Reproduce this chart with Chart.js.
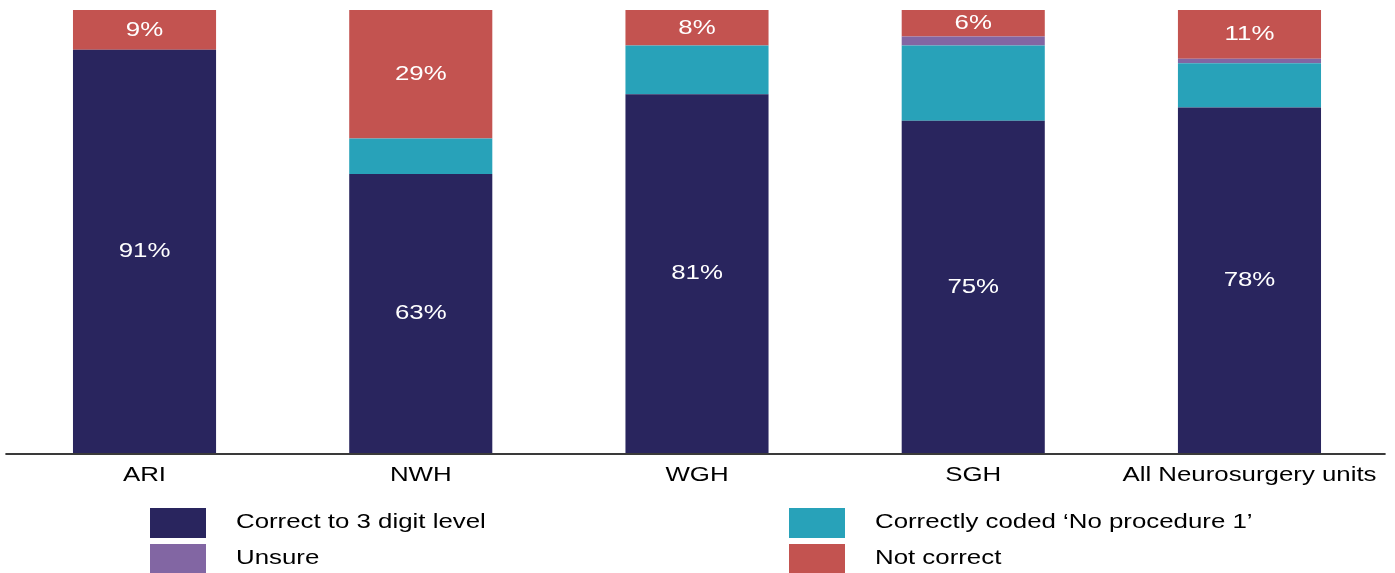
<!DOCTYPE html>
<html>
<head>
<meta charset="utf-8">
<title>Procedure coding accuracy by neurosurgery unit</title>
<script src="https://cdn.jsdelivr.net/npm/chart.js@4/dist/chart.umd.min.js"></script>
<style>
  html, body { margin: 0; padding: 0; background: #ffffff; }
  #wrap { position: relative; width: 1395px; height: 573px; }
</style>
</head>
<body>
<div id="wrap"><canvas id="chart"></canvas></div>
<script>
// Units audited
const units = ['ARI', 'NWH', 'WGH', 'SGH', 'All Neurosurgery units'];

// Share of records in each coding outcome (%), per unit
const correct3Digit = [91, 63, 81, 75, 78];
const noProcedure1  = [0, 8, 11, 17, 10];
const unsure        = [0, 0, 0, 2, 1];
const notCorrect    = [9, 29, 8, 6, 11];

const seriesNames = ['Correct to 3 digit level', 'Correctly coded \u2018No procedure 1\u2019', 'Unsure', 'Not correct'];
const seriesColors = ['#29255e', '#28a2b9', '#8266a3', '#c35350'];

const FONT = '21px "Liberation Sans", Arial, Helvetica, sans-serif';
const STRETCH = 1.23;

// Draws text widened horizontally around its anchor
function wideText(ctx, text, x, y, align) {
  ctx.save();
  ctx.translate(x, y);
  ctx.scale(STRETCH, 1);
  ctx.textAlign = align;
  ctx.fillText(text, 0, 0);
  ctx.restore();
}

// Axis line, category labels, in-bar percentages and two-column legend
const decorations = {
  id: 'decorations',
  afterDatasetsDraw(chart) {
    const ctx = chart.ctx;
    const xs = chart.scales.x;
    const ys = chart.scales.y;
    const area = chart.chartArea;

    // percentage labels on the first and last segments
    ctx.save();
    ctx.font = FONT;
    ctx.fillStyle = '#ffffff';
    ctx.textBaseline = 'middle';
    [0, 3].forEach(di => {
      const meta = chart.getDatasetMeta(di);
      meta.data.forEach((bar, i) => {
        const v = chart.data.datasets[di].data[i];
        if (!v) return;
        const yc = (bar.y + bar.base) / 2;
        wideText(ctx, v + '%', bar.x, yc, 'center');
      });
    });
    ctx.restore();

    // baseline
    const y0 = ys.getPixelForValue(0);
    ctx.save();
    ctx.strokeStyle = '#3a3a3a';
    ctx.lineWidth = 2;
    ctx.beginPath();
    ctx.moveTo(area.left - 1, y0 + 1);
    ctx.lineTo(area.right - 2, y0 + 1);
    ctx.stroke();
    ctx.restore();

    // category labels
    ctx.save();
    ctx.font = FONT;
    ctx.fillStyle = '#000000';
    ctx.textBaseline = 'middle';
    chart.data.labels.forEach((lab, i) => {
      wideText(ctx, lab, xs.getPixelForValue(i), y0 + 22, 'center');
    });
    ctx.restore();

    // legend: two columns, two rows
    const colBox = [150, 789];
    const colText = [236, 875];
    const rowBox = [508, 544];
    ctx.save();
    ctx.font = FONT;
    ctx.textBaseline = 'middle';
    chart.data.datasets.forEach((ds, di) => {
      const col = (di === 0 || di === 2) ? 0 : 1;
      const row = (di === 0 || di === 1) ? 0 : 1;
      ctx.fillStyle = ds.backgroundColor;
      ctx.fillRect(colBox[col], rowBox[row], 56, 30);
      ctx.fillStyle = '#000000';
      wideText(ctx, ds.label, colText[col], rowBox[row] + 14, 'left');
    });
    ctx.restore();
  }
};

const seriesValues = [correct3Digit, noProcedure1, unsure, notCorrect];

new Chart(document.getElementById('chart'), {
  type: 'bar',
  data: {
    labels: units,
    datasets: seriesValues.map((vals, k) => ({
      label: seriesNames[k],
      data: vals,
      backgroundColor: seriesColors[k],
      borderWidth: 0,
      categoryPercentage: 1,
      barPercentage: 0.518
    }))
  },
  options: {
    responsive: true,
    maintainAspectRatio: false,
    animation: false,
    layout: { padding: { top: 10, left: 6.4, right: 7.4, bottom: 120 } },
    plugins: {
      legend: { display: false },
      tooltip: { enabled: false }
    },
    scales: {
      x: { stacked: true, display: false },
      y: { stacked: true, display: false, min: 0, max: 100 }
    }
  },
  plugins: [decorations]
});
</script>
</body>
</html>
